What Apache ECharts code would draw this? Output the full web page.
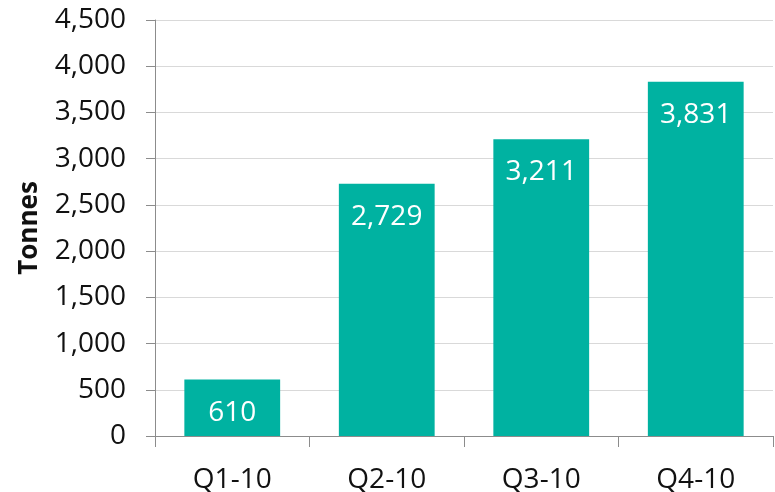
<!DOCTYPE html>
<html>
<head>
<meta charset="utf-8">
<script src="https://cdn.jsdelivr.net/npm/echarts@6/dist/echarts.min.js"></script>
<style>
  html, body { margin: 0; padding: 0; background: #fff; }
  #chart { width: 775px; height: 492px; }
</style>
</head>
<body>
<div id="chart"></div>
<script>
// Quarterly tonnage, 2010
const quarters = ['Q1-10', 'Q2-10', 'Q3-10', 'Q4-10'];
const tonnes = [610, 2729, 3211, 3831];
const yTicks = { min: 0, max: 4500, interval: 500 };

const fontFamily = '"Open Sans", "Noto Sans", sans-serif';
const fmt = v => v.toLocaleString('en-US');

const chart = echarts.init(document.getElementById('chart'));
chart.setOption({
  animation: false,
  grid: { left: 155, right: 2, top: 20, bottom: 56, containLabel: false, outerBoundsMode: 'none' },
  xAxis: {
    type: 'category',
    data: quarters,
    axisLine: { lineStyle: { color: '#8c8c8c', width: 1 } },
    axisTick: { show: true, length: 11, lineStyle: { color: '#8c8c8c' } },
    axisLabel: { color: '#111111', fontSize: 28, fontFamily, margin: 30 }
  },
  yAxis: {
    type: 'value',
    min: yTicks.min,
    max: yTicks.max,
    interval: yTicks.interval,
    name: 'Tonnes',
    nameLocation: 'middle',
    nameGap: 112,
    nameTextStyle: { color: '#111111', fontSize: 26, fontWeight: 'bold', fontFamily },
    axisLine: { show: true, lineStyle: { color: '#8c8c8c', width: 1 } },
    axisTick: { show: true, length: 9, lineStyle: { color: '#8c8c8c' } },
    axisLabel: { color: '#111111', fontSize: 28, fontFamily, margin: 29, formatter: fmt },
    splitLine: { show: true, lineStyle: { color: '#d9d9d9', width: 1 } }
  },
  series: [{
    type: 'bar',
    data: tonnes,
    barCategoryGap: '38%',
    itemStyle: { color: '#00b2a1' },
    label: {
      show: true,
      position: 'insideTop',
      distance: 19,
      color: '#ffffff',
      fontSize: 28,
      fontFamily,
      formatter: p => fmt(p.value)
    }
  }]
});
</script>
</body>
</html>
